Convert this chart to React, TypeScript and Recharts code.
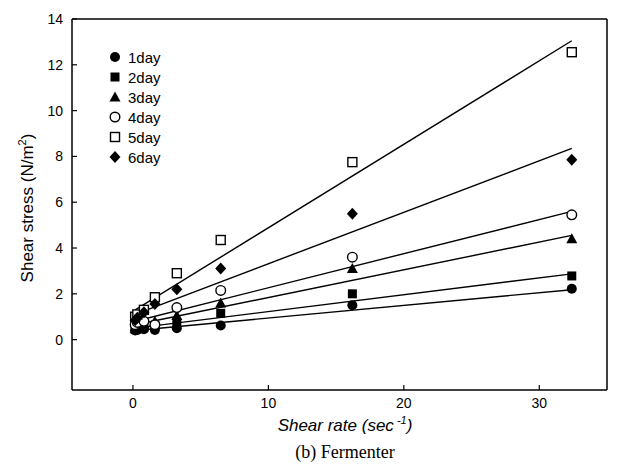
import { ScatterChart, Scatter, XAxis, YAxis, Legend } from "recharts";

// shear rate (sec^-1) for each viscometer speed
const shearRate = [0.162, 0.324, 0.81, 1.62, 3.24, 6.48, 16.2, 32.4];

// shear stress (N/m2) per fermentation day
const day1 = [0.4, 0.42, 0.45, 0.42, 0.5, 0.62, 1.5, 2.22];
const day2 = [0.45, 0.5, 0.55, 0.6, 0.75, 1.15, 2.0, 2.78];
const day3 = [0.5, 0.6, 0.7, 0.8, 1.05, 1.6, 3.1, 4.4];
const day4 = [0.65, 0.75, 0.8, 0.65, 1.4, 2.15, 3.6, 5.45];
const day5 = [1.0, 1.1, 1.3, 1.85, 2.9, 4.35, 7.75, 12.55];
const day6 = [0.85, 0.95, 1.2, 1.55, 2.2, 3.1, 5.5, 7.85];

// regression line end points
const fitRate = [0.162, 32.4];
const fit1 = [0.4, 2.18];
const fit2 = [0.5, 2.87];
const fit3 = [0.65, 4.55];
const fit4 = [0.8, 5.6];
const fit5 = [1.3, 13.05];
const fit6 = [1.1, 8.35];

const xTicks = [0, 10, 20, 30];
const yTicks = [0, 2, 4, 6, 8, 10, 12, 14];

type Marker = "circle" | "square" | "triangle" | "ocircle" | "osquare" | "diamond";

const series: { name: string; values: number[]; fit: number[]; marker: Marker }[] = [
  { name: "1day", values: day1, fit: fit1, marker: "circle" },
  { name: "2day", values: day2, fit: fit2, marker: "square" },
  { name: "3day", values: day3, fit: fit3, marker: "triangle" },
  { name: "4day", values: day4, fit: fit4, marker: "ocircle" },
  { name: "5day", values: day5, fit: fit5, marker: "osquare" },
  { name: "6day", values: day6, fit: fit6, marker: "diamond" },
];

const toPoints = (xs: number[], ys: number[]) => xs.map((x, i) => ({ x, y: ys[i] }));

function drawMarker(kind: Marker, cx: number, cy: number) {
  switch (kind) {
    case "circle":
      return <circle cx={cx} cy={cy} r={5} fill="#000" />;
    case "square":
      return <rect x={cx - 4.5} y={cy - 4.5} width={9} height={9} fill="#000" />;
    case "triangle":
      return <polygon points={`${cx},${cy - 5.5} ${cx + 5.5},${cy + 4.5} ${cx - 5.5},${cy + 4.5}`} fill="#000" />;
    case "ocircle":
      return <circle cx={cx} cy={cy} r={4.8} fill="#fff" stroke="#000" strokeWidth={1.4} />;
    case "osquare":
      return <rect x={cx - 4.5} y={cy - 4.5} width={9} height={9} fill="#fff" stroke="#000" strokeWidth={1.4} />;
    case "diamond":
      return <polygon points={`${cx},${cy - 6} ${cx + 5.5},${cy} ${cx},${cy + 6} ${cx - 5.5},${cy}`} fill="#000" />;
  }
}

const font = "'Liberation Sans', Arial, sans-serif";

function renderLegend() {
  return (
    <div style={{ fontFamily: font, fontSize: 15, color: "#000" }}>
      {series.map((s) => (
        <div key={s.name} style={{ display: "flex", alignItems: "center", height: 20 }}>
          <svg width={14} height={14}>{drawMarker(s.marker, 7, 7)}</svg>
          <span style={{ marginLeft: 6 }}>{s.name}</span>
        </div>
      ))}
    </div>
  );
}

const tickStyle = { fontSize: 14, fill: "#000", fontFamily: font };

export default function App() {
  return (
    <div style={{ position: "absolute", left: 0, top: 0, width: 619, height: 476, background: "#fff" }}>
      <ScatterChart width={619} height={476} margin={{ top: 18, right: 11, bottom: 56, left: 32 }}>
        <XAxis
          type="number"
          dataKey="x"
          domain={[-4.5, 35]}
          ticks={xTicks}
          allowDataOverflow
          height={30}
          tickSize={-5}
          tickMargin={13}
          tick={tickStyle}
          axisLine={{ stroke: "#000", strokeWidth: 1.5 }}
          tickLine={{ stroke: "#000", strokeWidth: 1.2 }}
        />
        <XAxis
          xAxisId="top"
          orientation="top"
          type="number"
          domain={[-4.5, 35]}
          height={1}
          tick={false}
          tickLine={false}
          axisLine={{ stroke: "#000", strokeWidth: 1.5 }}
        />
        <YAxis
          type="number"
          dataKey="y"
          domain={[-2.2, 14]}
          ticks={yTicks}
          allowDataOverflow
          width={40}
          tickSize={-5}
          tickMargin={14}
          tick={tickStyle}
          axisLine={{ stroke: "#000", strokeWidth: 1.5 }}
          tickLine={{ stroke: "#000", strokeWidth: 1.2 }}
        />
        <YAxis
          yAxisId="right"
          orientation="right"
          type="number"
          domain={[-2.2, 14]}
          width={1}
          tick={false}
          tickLine={false}
          axisLine={{ stroke: "#000", strokeWidth: 1.5 }}
        />
        <Legend
          layout="vertical"
          align="center"
          verticalAlign="middle"
          wrapperStyle={{ left: 108, top: 47, width: 80 }}
          content={renderLegend}
        />
        {series.map((s) => (
          <Scatter
            key={`fit-${s.name}`}
            data={toPoints(fitRate, s.fit)}
            line={{ stroke: "#000", strokeWidth: 1.4 }}
            shape={() => <g />}
            legendType="none"
            isAnimationActive={false}
          />
        ))}
        {series.map((s) => (
          <Scatter
            key={s.name}
            name={s.name}
            data={toPoints(shearRate, s.values)}
            shape={(p: any) => drawMarker(s.marker, p.cx, p.cy)}
            isAnimationActive={false}
          />
        ))}
      </ScatterChart>
      <div
        style={{
          position: "absolute",
          left: 27,
          top: 208,
          transform: "translate(-50%, -50%) rotate(-90deg)",
          whiteSpace: "nowrap",
          fontFamily: font,
          fontSize: 17,
        }}
      >
        Shear stress (N/m<sup style={{ fontSize: 11 }}>2</sup>)
      </div>
      <div
        style={{
          position: "absolute",
          left: 345,
          top: 425,
          transform: "translate(-50%, -50%)",
          whiteSpace: "nowrap",
          fontFamily: font,
          fontStyle: "italic",
          fontSize: 17,
        }}
      >
        Shear rate (sec<sup style={{ fontSize: 11 }}> -1</sup>)
      </div>
      <div
        style={{
          position: "absolute",
          left: 345,
          top: 452,
          transform: "translate(-50%, -50%)",
          whiteSpace: "nowrap",
          fontFamily: "'Liberation Serif', 'Times New Roman', serif",
          fontSize: 18,
        }}
      >
        (b) Fermenter
      </div>
    </div>
  );
}
